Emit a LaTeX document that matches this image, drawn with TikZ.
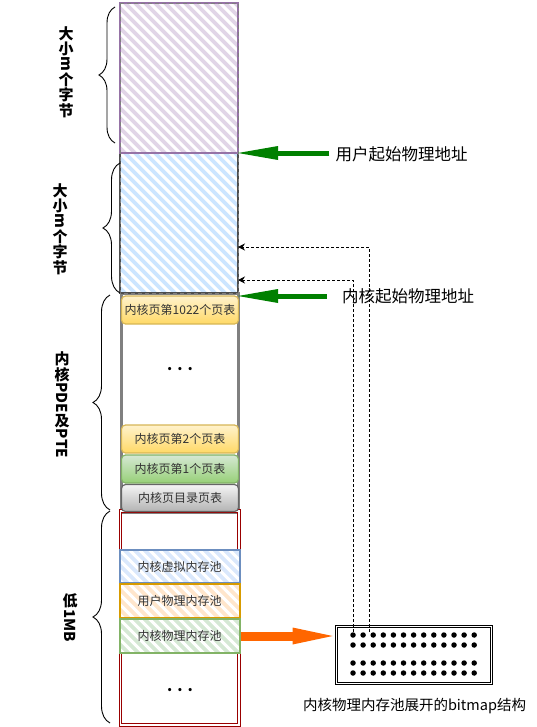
\documentclass[tikz,border=0pt]{standalone}
\usepackage{fontspec}
\setmainfont{Noto Sans CJK SC}
\usepackage{graphicx}
\usetikzlibrary{arrows.meta,decorations.pathreplacing,calc}
\definecolor{pplF}{HTML}{E1D5E7}
\definecolor{pplD}{HTML}{9673A6}
\definecolor{blF}{HTML}{CCE5FF}
\definecolor{blD}{HTML}{4D4D4D}
\definecolor{yT}{HTML}{FFF2CC}
\definecolor{yB}{HTML}{FFD966}
\definecolor{yD}{HTML}{D6B656}
\definecolor{gT}{HTML}{D5E8D4}
\definecolor{gB}{HTML}{97D077}
\definecolor{gD}{HTML}{82B366}
\definecolor{grT}{HTML}{F5F5F5}
\definecolor{grB}{HTML}{B3B3B3}
\definecolor{grD}{HTML}{666666}
\definecolor{redD}{HTML}{990000}
\definecolor{vF}{HTML}{DAE8FC}
\definecolor{vD}{HTML}{6C8EBF}
\definecolor{uF}{HTML}{FFE6CC}
\definecolor{uD}{HTML}{D79B00}
\definecolor{pF}{HTML}{D5E8D4}
\definecolor{pD}{HTML}{82B366}
\definecolor{arrG}{HTML}{008000}
\definecolor{arrO}{HTML}{FF6600}
\definecolor{pdeG}{HTML}{808080}
\definecolor{txt}{HTML}{333333}
\begin{document}
\begin{tikzpicture}[x=1bp,y=-1bp,
  hatch/.style={path picture={\foreach \k in {-170,-160,...,140}{\draw[white,line width=3.1bp] ([xshift=\k bp]path picture bounding box.north west) -- ++(220bp,-220bp);}}},
  seg/.style={draw, inner sep=0, outer sep=0, anchor=north west},
  pagebox/.style={rounded corners=4bp, draw, line width=1.2bp, minimum width=117bp, minimum height=28bp, inner sep=0, text=txt, font=\fontsize{12bp}{14bp}\selectfont},
  pool/.style={hatch, draw, line width=2bp, minimum width=120bp, minimum height=34bp, inner sep=0, text=txt, font=\fontsize{12bp}{14bp}\selectfont},
  vlabel/.style={align=center, inner sep=0, font=\bfseries\fontsize{15bp}{0bp}\selectfont\setlength{\lineskip}{1bp}},
  ell/.style={inner sep=0, font=\bfseries\fontsize{15bp}{15bp}\selectfont},
  brc/.style={decorate, line width=0.9bp},
  garrow/.style={draw=arrG, line width=5bp, -{Triangle[length=40bp,width=14bp,line width=0bp]}},
  oarrow/.style={draw=arrO, line width=9bp, -{Triangle[length=40bp,width=17bp,line width=0bp]}},
  dashline/.style={line width=0.8bp, dash pattern=on 3bp off 2bp, -{Stealth[length=7bp,width=7bp]}},
  bdot/.style={circle, fill=black, inner sep=0, minimum size=5.5bp}
]
\useasboundingbox (0,0) rectangle (537,727);

% column regions
\node[seg, draw=pdeG, line width=3bp, minimum width=117bp, minimum height=219bp] (pde) at (121,293) {};
\node[seg, draw=redD, double=white, double distance=1.6bp, line width=0.8bp, minimum width=118.5bp, minimum height=214bp] (low) at (120.5,511) {};
\node[seg, hatch, fill=blF, draw=blD, line width=1.5bp, minimum width=118bp, minimum height=140bp] (blue) at (120,153) {};
\node[seg, hatch, fill=pplF, draw=pplD, line width=2bp, minimum width=118bp, minimum height=150bp] (purple) at (120,3) {};
\draw[gray, line width=0.7bp, dash pattern=on 4bp off 3bp] (purple.north west) rectangle (blue.south east);

% page table boxes
\node[pagebox, top color=yT, bottom color=yB, draw=yD] (p1022) at (180,310) {内核页第1022个页表};
\node[ell] (e1) at (180,369) {.\hspace{5bp}.\hspace{5bp}.};
\node[pagebox, top color=yT, bottom color=yB, draw=yD] (p2) at (180,439) {内核页第2个页表};
\node[pagebox, top color=gT, bottom color=gB, draw=gD] (p1) at (180,469) {内核页第1个页表};
\node[pagebox, top color=grT, bottom color=grB, draw=grD, minimum height=27bp] (pdir) at (180,498) {内核页目录页表};

% pools
\node[pool, fill=vF, draw=vD, minimum height=33bp] (vpool) at (179.5,566.5) {内核虚拟内存池};
\node[pool, fill=uF, draw=uD] (upool) at (179.5,601) {用户物理内存池};
\node[pool, fill=pF, draw=pD] (phys) at (179.5,636) {内核物理内存池};
\node[ell] (e2) at (180,690) {.\hspace{5bp}.\hspace{5bp}.};

% braces and labels
\draw[brc, decoration={brace, amplitude=16bp}] (115,143) -- (115,7);
\draw[brc, decoration={brace, amplitude=17bp}] (120,293) -- (120,163);
\draw[brc, decoration={brace, amplitude=17bp}] (110,510) -- (110,295);
\draw[brc, decoration={brace, amplitude=17bp}] (110,723) -- (110,511);
\node[vlabel] (l1) at (66,72) {大\\小\\\rotatebox{-90}{m}\\个\\字\\节};
\node[vlabel] (l2) at (60,229) {大\\小\\\rotatebox{-90}{m}\\个\\字\\节};
\node[vlabel] (l3) at (62,405) {内\\核\\\rotatebox{-90}{PDE}\\及\\\rotatebox{-90}{PTE}};
\node[vlabel] (l4) at (70,618) {低\\\rotatebox{-90}{1MB}};

% start address arrows
\node[inner sep=1bp, font=\fontsize{16.5bp}{18bp}\selectfont] (utxt) at (401.5,154) {用户起始物理地址};
\node[inner sep=1bp, font=\fontsize{16.5bp}{18bp}\selectfont] (ktxt) at (408,296) {内核起始物理地址};
\draw[garrow, shorten <=5bp] (blue.north east -| utxt.west) -- (blue.north east);
\draw[garrow, shorten <=14bp] (ktxt.west) -- (ktxt.west -| blue.east);

% bitmap
\node[draw, double=white, double distance=1.5bp, line width=0.8bp, minimum width=155bp, minimum height=57bp, inner sep=0] (bm) at (414,655) {};
\foreach \r/\yy in {1/635,2/645,3/663,4/673}{
  \foreach \c in {0,...,12}{
    \node[bdot] (d\r-\c) at ({353+10.1*\c},\yy) {};
  }
}
\node[inner sep=0, font=\fontsize{14.5bp}{16bp}\selectfont] (cap) at (414.5,706) {内核物理内存池展开的bitmap结构};
\draw[oarrow, shorten >=3.5bp] (phys.east) -- (phys.east -| bm.west);

% dashed pointers
\coordinate (c2) at (369,632);
\draw[dashline] (d1-0.north) |- ([yshift=13bp]blue.south east);
\draw[dashline] (c2) |- ([yshift=46bp]blue.south east);
\end{tikzpicture}
\end{document}
